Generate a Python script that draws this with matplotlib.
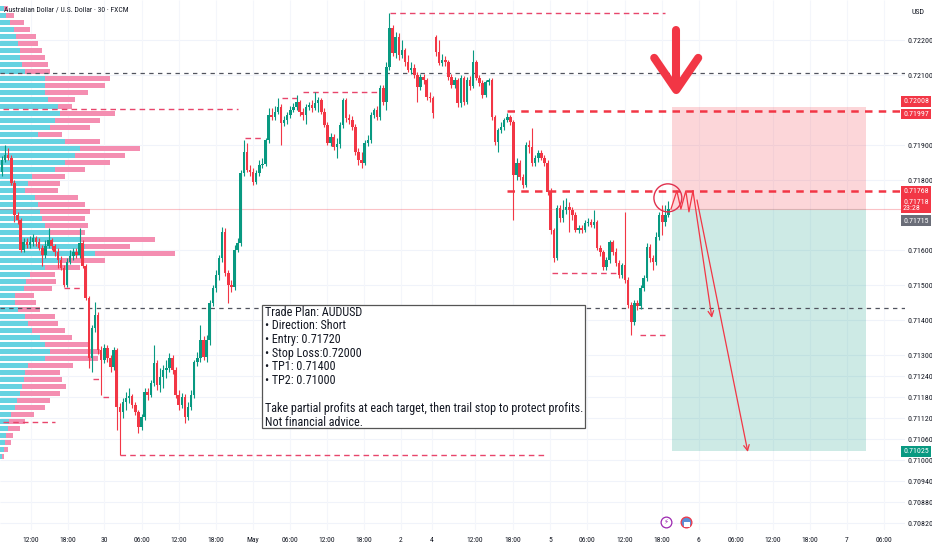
import matplotlib
matplotlib.use("Agg")
import matplotlib.pyplot as plt
import matplotlib.transforms as mtransforms
from matplotlib import font_manager as fm
from matplotlib.patches import Rectangle, Ellipse
import numpy as np

# ── OHLC (AUDUSD, 30m, FXCM) ─────────────────────────────────────
opens = [
    0.71823, 0.71857, 0.71871, 0.71863, 0.71791, 0.71700, 0.71686, 0.71600, 0.71623, 0.71614,
    0.71623, 0.71634, 0.71623, 0.71606, 0.71586, 0.71611, 0.71629, 0.71611, 0.71594, 0.71571,
    0.71549, 0.71500, 0.71566, 0.71583, 0.71594, 0.71586, 0.71620, 0.71554, 0.71463, 0.71291,
    0.71377, 0.71414, 0.71314, 0.71286, 0.71320, 0.71291, 0.71266, 0.71314, 0.71151, 0.71137,
    0.71166, 0.71177, 0.71183, 0.71157, 0.71137, 0.71094, 0.71123, 0.71194, 0.71186, 0.71220,
    0.71277, 0.71214, 0.71237, 0.71257, 0.71263, 0.71291, 0.71257, 0.71186, 0.71157, 0.71180,
    0.71123, 0.71151, 0.71186, 0.71280, 0.71291, 0.71343, 0.71294, 0.71343, 0.71449, 0.71491,
    0.71529, 0.71577, 0.71651, 0.71534, 0.71500, 0.71494, 0.71600, 0.71620, 0.71820, 0.71880,
    0.71829, 0.71823, 0.71794, 0.71820, 0.71843, 0.71846, 0.71914, 0.71986, 0.71980, 0.71994,
    0.72009, 0.71963, 0.71971, 0.71986, 0.72000, 0.72009, 0.72023, 0.71994, 0.71986, 0.72009,
    0.72014, 0.72006, 0.72020, 0.72029, 0.71994, 0.71957, 0.71906, 0.71923, 0.71894, 0.71903,
    0.71957, 0.72029, 0.71977, 0.71971, 0.71951, 0.71880, 0.71857, 0.71849, 0.71906, 0.71914,
    0.71986, 0.72000, 0.71980, 0.72063, 0.72023, 0.72123, 0.72234, 0.72163, 0.72209, 0.72157,
    0.72171, 0.72137, 0.72114, 0.72120, 0.72100, 0.72066, 0.72094, 0.72086, 0.72037, 0.72034,
    0.72209, 0.72166, 0.72134, 0.72143, 0.72137, 0.72094, 0.72071, 0.72086, 0.72020, 0.72091,
    0.72023, 0.72086, 0.72069, 0.72137, 0.72091, 0.72077, 0.72043, 0.72080, 0.72086, 0.71980,
    0.71909, 0.71943, 0.71951, 0.71971, 0.71980, 0.71966, 0.71814, 0.71849, 0.71809, 0.71786,
    0.71900, 0.71894, 0.71849, 0.71863, 0.71877, 0.71863, 0.71849, 0.71766, 0.71657, 0.71577,
    0.71720, 0.71691, 0.71714, 0.71723, 0.71714, 0.71700, 0.71657, 0.71663, 0.71657, 0.71677,
    0.71680, 0.71671, 0.71680, 0.71606, 0.71594, 0.71551, 0.71571, 0.71623, 0.71594, 0.71563,
    0.71529, 0.71557, 0.71514, 0.71443, 0.71394, 0.71449, 0.71440, 0.71491, 0.71520, 0.71609,
    0.71577, 0.71566, 0.71637, 0.71700, 0.71680, 0.71700,
]
highs = [
    0.71869, 0.71900, 0.71891, 0.71871, 0.71800, 0.71709, 0.71691, 0.71634, 0.71634, 0.71640,
    0.71646, 0.71640, 0.71634, 0.71614, 0.71629, 0.71663, 0.71634, 0.71617, 0.71606, 0.71583,
    0.71557, 0.71577, 0.71600, 0.71606, 0.71606, 0.71663, 0.71629, 0.71560, 0.71469, 0.71386,
    0.71451, 0.71423, 0.71326, 0.71331, 0.71329, 0.71300, 0.71323, 0.71320, 0.71163, 0.71177,
    0.71194, 0.71206, 0.71189, 0.71166, 0.71143, 0.71131, 0.71206, 0.71206, 0.71229, 0.71329,
    0.71286, 0.71263, 0.71271, 0.71286, 0.71306, 0.71300, 0.71266, 0.71200, 0.71191, 0.71189,
    0.71166, 0.71200, 0.71286, 0.71309, 0.71386, 0.71354, 0.71357, 0.71457, 0.71500, 0.71543,
    0.71586, 0.71666, 0.71663, 0.71543, 0.71514, 0.71614, 0.71634, 0.71829, 0.71914, 0.71906,
    0.71843, 0.71834, 0.71829, 0.71857, 0.71863, 0.71920, 0.72006, 0.72006, 0.72011, 0.72034,
    0.72017, 0.71983, 0.71994, 0.72011, 0.72020, 0.72043, 0.72029, 0.72006, 0.72017, 0.72023,
    0.72029, 0.72051, 0.72037, 0.72034, 0.72006, 0.71966, 0.71934, 0.71931, 0.71920, 0.71966,
    0.72034, 0.72034, 0.71989, 0.71983, 0.71960, 0.71891, 0.71880, 0.71914, 0.71929, 0.71994,
    0.72006, 0.72011, 0.72071, 0.72071, 0.72137, 0.72277, 0.72243, 0.72223, 0.72220, 0.72200,
    0.72177, 0.72157, 0.72137, 0.72131, 0.72109, 0.72103, 0.72103, 0.72091, 0.72051, 0.72040,
    0.72214, 0.72200, 0.72160, 0.72154, 0.72143, 0.72103, 0.72094, 0.72091, 0.72100, 0.72097,
    0.72094, 0.72097, 0.72171, 0.72143, 0.72100, 0.72086, 0.72086, 0.72091, 0.72091, 0.71986,
    0.71949, 0.71966, 0.71977, 0.71991, 0.71986, 0.71971, 0.71863, 0.71857, 0.71817, 0.71909,
    0.71914, 0.71949, 0.71871, 0.71886, 0.71886, 0.71871, 0.71857, 0.71777, 0.71663, 0.71729,
    0.71729, 0.71743, 0.71749, 0.71737, 0.71723, 0.71709, 0.71671, 0.71671, 0.71686, 0.71691,
    0.71689, 0.71714, 0.71686, 0.71614, 0.71600, 0.71580, 0.71629, 0.71629, 0.71606, 0.71571,
    0.71563, 0.71709, 0.71523, 0.71451, 0.71457, 0.71457, 0.71500, 0.71529, 0.71620, 0.71617,
    0.71586, 0.71651, 0.71709, 0.71729, 0.71729, 0.71740,
]
lows = [
    0.71811, 0.71851, 0.71857, 0.71786, 0.71680, 0.71674, 0.71594, 0.71594, 0.71606, 0.71606,
    0.71611, 0.71611, 0.71600, 0.71554, 0.71577, 0.71606, 0.71600, 0.71583, 0.71549, 0.71543,
    0.71494, 0.71494, 0.71560, 0.71571, 0.71577, 0.71577, 0.71549, 0.71457, 0.71263, 0.71251,
    0.71366, 0.71303, 0.71186, 0.71277, 0.71280, 0.71251, 0.71257, 0.71086, 0.71014, 0.71120,
    0.71143, 0.71163, 0.71149, 0.71129, 0.71077, 0.71086, 0.71114, 0.71171, 0.71180, 0.71211,
    0.71200, 0.71194, 0.71206, 0.71234, 0.71251, 0.71246, 0.71177, 0.71143, 0.71149, 0.71106,
    0.71114, 0.71143, 0.71177, 0.71269, 0.71280, 0.71286, 0.71280, 0.71329, 0.71440, 0.71480,
    0.71514, 0.71566, 0.71526, 0.71449, 0.71480, 0.71486, 0.71594, 0.71611, 0.71811, 0.71823,
    0.71811, 0.71786, 0.71789, 0.71811, 0.71834, 0.71840, 0.71906, 0.71971, 0.71971, 0.71989,
    0.71900, 0.71954, 0.71960, 0.71977, 0.71994, 0.72000, 0.71983, 0.71971, 0.71960, 0.72000,
    0.71994, 0.72000, 0.71994, 0.71989, 0.71951, 0.71900, 0.71897, 0.71886, 0.71863, 0.71891,
    0.71949, 0.71966, 0.71960, 0.71943, 0.71871, 0.71843, 0.71834, 0.71843, 0.71897, 0.71906,
    0.71977, 0.71971, 0.71971, 0.72014, 0.72000, 0.72114, 0.72154, 0.72149, 0.72143, 0.72149,
    0.72126, 0.72109, 0.72103, 0.72091, 0.72023, 0.72057, 0.72074, 0.72029, 0.72023, 0.71977,
    0.72154, 0.72129, 0.72126, 0.72126, 0.72086, 0.72063, 0.72063, 0.72009, 0.72009, 0.72014,
    0.72017, 0.72057, 0.72063, 0.72086, 0.72069, 0.72034, 0.72037, 0.72071, 0.71971, 0.71900,
    0.71880, 0.71934, 0.71943, 0.71966, 0.71957, 0.71686, 0.71800, 0.71800, 0.71777, 0.71780,
    0.71877, 0.71840, 0.71840, 0.71851, 0.71857, 0.71840, 0.71757, 0.71646, 0.71566, 0.71571,
    0.71680, 0.71680, 0.71703, 0.71651, 0.71686, 0.71651, 0.71649, 0.71649, 0.71651, 0.71669,
    0.71666, 0.71663, 0.71600, 0.71583, 0.71543, 0.71543, 0.71563, 0.71586, 0.71554, 0.71520,
    0.71520, 0.71506, 0.71434, 0.71357, 0.71386, 0.71429, 0.71431, 0.71483, 0.71511, 0.71566,
    0.71543, 0.71557, 0.71629, 0.71643, 0.71669, 0.71694,
]
closes = [
    0.71857, 0.71871, 0.71863, 0.71791, 0.71700, 0.71686, 0.71600, 0.71623, 0.71614, 0.71623,
    0.71634, 0.71623, 0.71606, 0.71586, 0.71611, 0.71629, 0.71611, 0.71594, 0.71571, 0.71549,
    0.71500, 0.71566, 0.71583, 0.71594, 0.71586, 0.71620, 0.71554, 0.71463, 0.71291, 0.71377,
    0.71414, 0.71314, 0.71286, 0.71320, 0.71291, 0.71266, 0.71314, 0.71151, 0.71137, 0.71166,
    0.71177, 0.71183, 0.71157, 0.71137, 0.71094, 0.71123, 0.71194, 0.71186, 0.71220, 0.71277,
    0.71214, 0.71237, 0.71257, 0.71263, 0.71291, 0.71257, 0.71186, 0.71157, 0.71180, 0.71123,
    0.71151, 0.71186, 0.71280, 0.71291, 0.71343, 0.71294, 0.71343, 0.71449, 0.71491, 0.71529,
    0.71577, 0.71651, 0.71534, 0.71500, 0.71494, 0.71600, 0.71620, 0.71820, 0.71880, 0.71829,
    0.71823, 0.71794, 0.71820, 0.71843, 0.71846, 0.71914, 0.71986, 0.71980, 0.71994, 0.72009,
    0.71963, 0.71971, 0.71986, 0.72000, 0.72009, 0.72023, 0.71994, 0.71986, 0.72009, 0.72014,
    0.72006, 0.72020, 0.72029, 0.71994, 0.71957, 0.71906, 0.71923, 0.71894, 0.71903, 0.71957,
    0.72029, 0.71977, 0.71971, 0.71951, 0.71880, 0.71857, 0.71849, 0.71906, 0.71914, 0.71986,
    0.72000, 0.71980, 0.72063, 0.72023, 0.72123, 0.72234, 0.72163, 0.72209, 0.72157, 0.72171,
    0.72137, 0.72114, 0.72120, 0.72100, 0.72066, 0.72094, 0.72086, 0.72037, 0.72034, 0.71991,
    0.72166, 0.72134, 0.72143, 0.72137, 0.72094, 0.72071, 0.72086, 0.72020, 0.72091, 0.72023,
    0.72086, 0.72069, 0.72137, 0.72091, 0.72077, 0.72043, 0.72080, 0.72086, 0.71980, 0.71909,
    0.71943, 0.71951, 0.71971, 0.71980, 0.71966, 0.71814, 0.71849, 0.71809, 0.71786, 0.71900,
    0.71894, 0.71849, 0.71863, 0.71877, 0.71863, 0.71849, 0.71766, 0.71657, 0.71577, 0.71720,
    0.71691, 0.71714, 0.71723, 0.71714, 0.71700, 0.71657, 0.71663, 0.71657, 0.71677, 0.71680,
    0.71671, 0.71680, 0.71606, 0.71594, 0.71551, 0.71571, 0.71623, 0.71594, 0.71563, 0.71529,
    0.71557, 0.71514, 0.71443, 0.71394, 0.71449, 0.71440, 0.71491, 0.71520, 0.71609, 0.71577,
    0.71566, 0.71637, 0.71700, 0.71680, 0.71700, 0.71718,
]

# ── volume profile (visible range), rows of 0.0002 from 0.7100 upwards ──
vp_start = 0.7100
vp_step = 0.0002
vp_up = [2, 4, 5, 6, 8, 9, 11, 15, 17, 20, 22, 24, 25, 28, 45, 50, 45, 40, 32, 28,
         25, 18, 15, 15, 24, 26, 30, 45, 62, 95, 85, 80, 50, 45, 42, 40, 38, 35, 25, 28,
         32, 55, 65, 75, 80, 65, 38, 50, 55, 60, 58, 48, 45, 45, 45, 25, 22, 20, 20, 18,
         16, 14, 10, 6, 4]
vp_down = [2, 4, 6, 7, 12, 16, 23, 30, 33, 40, 44, 38, 35, 45, 53, 50, 45, 32, 33, 30,
           30, 22, 21, 19, 28, 30, 25, 35, 43, 80, 45, 75, 35, 43, 43, 50, 47, 43, 33, 32,
           33, 30, 45, 50, 60, 35, 24, 40, 45, 55, 14, 27, 43, 60, 65, 25, 26, 25, 22, 20,
           20, 16, 14, 8, 4]

# ── axes ticks ────────────────────────────────────────────────────
time_ticks = [9.4, 21.3, 33.0, 45.2, 57.1, 69.0, 81.0, 92.9, 104.8, 116.8, 128.7, 138.7,
              152.6, 164.8, 176.8, 188.7, 201.0, 212.9, 224.8, 236.8, 248.7, 260.6, 272.6, 284.5]
time_labels = ["12:00", "18:00", "30", "06:00", "12:00", "18:00", "May", "06:00", "12:00",
               "18:00", "2", "4", "12:00", "18:00", "5", "06:00", "12:00", "18:00", "6",
               "06:00", "12:00", "18:00", "7", "06:00"]
price_ticks = [0.72200, 0.72100, 0.71900, 0.71800, 0.71600, 0.71500, 0.71400, 0.71300,
               0.71240, 0.71180, 0.71120, 0.71060, 0.71000, 0.70940, 0.70880, 0.70820]

# ── trade plan ────────────────────────────────────────────────────
entry_price = 0.71718
stop_price = 0.72008
target_price = 0.71025
last_price = 0.71718
prev_price = 0.71715
plan_lines = [
    "Trade Plan: AUDUSD",
    "\u2022 Direction: Short",
    "\u2022 Entry: 0.71720",
    "\u2022 Stop Loss:0.72000",
    "\u2022 TP1: 0.71400",
    "\u2022 TP2: 0.71000",
    "",
    "Take partial profits at each target, then trail stop to protect profits.",
    "Not financial advice.",
]
header = "Australian Dollar / U.S. Dollar \u00b7 30 \u00b7 FXCM"

GREEN = "#089981"
RED = "#f23645"
PINK = "#f48eb1"
CYAN = "#66d2e1"
TXT = "#131722"


def pick_font():
    ents = fm.fontManager.ttflist
    names = {e.name for e in ents}
    for cand in ["Liberation Sans Narrow", "Roboto Condensed", "Noto Sans Condensed",
                 "Open Sans Condensed", "DejaVu Sans Condensed"]:
        if cand in names:
            return cand, "normal"
    for e in ents:
        if "condensed" in str(e.stretch) and e.name in ("DejaVu Sans", "Noto Sans", "Roboto",
                                                      "Open Sans", "Liberation Sans"):
            return e.name, e.stretch
    return "Liberation Sans", "normal"


fam, stretch = pick_font()
plt.rcParams["font.family"] = [fam, "DejaVu Sans"]
plt.rcParams["font.stretch"] = stretch

fig = plt.figure(figsize=(9.32, 5.5), dpi=100)
fig.patch.set_facecolor("white")
renderer = fig.canvas.get_renderer()


def fit(text, target_px):
    t = fig.text(0, 0, text, fontsize=10)
    w = t.get_window_extent(renderer=renderer).width
    t.remove()
    return 10 * target_px / w


axis_fs = fit("0.72200", 25)
time_fs = fit("12:00", 16.5)
head_fs = fit(header, 124)
plan_fs = fit(plan_lines[7], 316)

ax = fig.add_axes([0, 20 / 550, 905 / 932, 530 / 550])
XMIN, XMAX = -0.65, 291.3
ax.set_xlim(XMIN, XMAX)
ax.set_ylim(0.70800, 0.723143)
for s in ax.spines.values():
    s.set_visible(False)

# grid
ax.hlines(price_ticks, XMIN, XMAX, color="#f0f3fa", lw=0.8, zorder=0)
ax.vlines(time_ticks, 0.70800, 0.723143, color="#f4f6fb", lw=0.8, zorder=0)

# volume profile
up_v = np.array(vp_up, dtype=float)
dn_v = np.array(vp_down, dtype=float)
scale = 56.5 / (up_v + dn_v).max()
rows = vp_start + vp_step * (np.arange(len(up_v)) + 0.5)
ax.barh(rows, up_v * scale, height=vp_step * 0.8, left=XMIN, color=CYAN, lw=0, zorder=1)
ax.barh(rows, dn_v * scale, height=vp_step * 0.8, left=XMIN + up_v * scale,
        color=PINK, lw=0, zorder=1)

# candles
o = np.array(opens); h = np.array(highs); l = np.array(lows); c = np.array(closes)
x = np.arange(len(c))
col = np.where(c >= o, GREEN, RED)
ax.vlines(x, l, h, colors=col, lw=0.8, zorder=3)
ax.bar(x, np.maximum(np.abs(c - o), 0.00002), bottom=np.minimum(o, c), width=0.8,
       color=col, lw=0, zorder=4)


# levels
def dline(y, x0, x1, color, lw, dashes, z=2.5):
    ax.plot([x0, x1], [y, y], color=color, lw=lw, dashes=dashes, zorder=z)


dline(0.72106, XMIN, XMAX, "#50535e", 0.9, (3.5, 3.5))
dline(0.71434, XMIN, XMAX, "#50535e", 0.9, (3.5, 3.5))
dline(0.72277, 125.2, 213.9, "#e8456b", 1.0, (4, 3))
dline(0.72003, 0.3, 76.1, "#e8456b", 1.0, (4, 3))
dline(0.72034, 90.3, 96.1, "#e8456b", 1.0, (4, 3))
dline(0.72051, 97.1, 121.0, "#e8456b", 1.0, (4, 3))
dline(0.71920, 78.4, 84.2, "#e8456b", 1.0, (4, 3))
dline(0.71534, 177.4, 199.4, "#e8456b", 1.0, (4, 3))
dline(0.71357, 205.8, 214.8, "#e8456b", 1.0, (4, 3))
dline(0.71014, 38.1, 175.2, "#e8456b", 1.0, (4, 3))
dline(0.71109, 0.3, 17.1, "#e8456b", 1.0, (4, 3))
dline(0.71491, 20.0, 25.8, "#e8456b", 1.0, (4, 3))
dline(0.71231, 29.4, 31.6, "#e8456b", 1.0, (4, 3))
dline(0.71180, 32.6, 34.8, "#e8456b", 1.0, (4, 3))
dline(0.71997, 162.9, XMAX, RED, 1.8, (3, 2.5), z=6)
dline(0.71768, 162.9, XMAX, RED, 1.8, (3, 2.5), z=6)
ax.plot([XMIN, XMAX], [last_price, last_price], color=RED, alpha=0.3, lw=0.8, zorder=2)

# short position box
bx0, bx1 = 216.1, 278.7
ax.fill_between([bx0, bx1], entry_price, stop_price, color=RED, alpha=0.2, lw=0, zorder=1.5)
ax.fill_between([bx0, bx1], target_price, entry_price, color=GREEN, alpha=0.2, lw=0, zorder=1.5)

# big arrow
ax.plot([217.5, 217.5], [0.72229, 0.72075], color=RED, lw=5.8, solid_capstyle="round", zorder=7)
ax.plot([210.4, 217.5, 224.6], [0.72149, 0.72057, 0.72149], color=RED, lw=5.8,
        solid_capstyle="round", solid_joinstyle="round", zorder=7)

# circle + projected path
ax.add_patch(Ellipse((214.8, 0.71749), 9.0, 0.0008, fill=False, ec="#e0304e", lw=1.0, zorder=7))
ax.plot([215.8, 217.7, 219.0, 220.6, 221.6, 222.9],
        [0.71717, 0.71769, 0.71717, 0.71769, 0.71709, 0.71769], color=RED, lw=0.9, zorder=7)
ax.annotate("", xy=(229.0, 0.71406), xytext=(222.9, 0.71769),
            arrowprops=dict(arrowstyle="->", color=RED, lw=0.9, shrinkA=0, shrinkB=0), zorder=7)
ax.annotate("", xy=(240.6, 0.71023), xytext=(224.2, 0.71743),
            arrowprops=dict(arrowstyle="->", color=RED, lw=0.9, shrinkA=0, shrinkB=0), zorder=7)

# event icons
ax.scatter([214.2], [0.70823], s=60, facecolor="white", edgecolor="#9c27b0", lw=0.9, zorder=8)
ax.text(214.2, 0.70823, "\u26a1", color="#9c27b0", fontsize=5, ha="center", va="center",
        family="DejaVu Sans", zorder=9)
ax.scatter([220.6], [0.70823], s=60, facecolor="#5b8fd6", edgecolor=RED, lw=0.9, zorder=8)
ax.scatter([221.0], [0.70815], s=14, facecolor="white", edgecolor="none", marker="s", zorder=9)

# trade plan text box
ax.add_patch(Rectangle((262 / 905, 1 - 428 / 530), 323 / 905, 123 / 530, transform=ax.transAxes,
                       fc="white", ec="#555555", lw=0.9, zorder=9))
for k, line in enumerate(plan_lines):
    ax.text(265 / 905, 1 - (312 + 13.75 * k) / 530, line, transform=ax.transAxes,
            ha="left", va="center", fontsize=plan_fs, color=TXT, zorder=10)

# axes labels
ax.set_xticks(time_ticks)
ax.set_xticklabels(time_labels)
ax.tick_params(axis="x", length=0, pad=5, labelsize=time_fs, labelcolor=TXT)
ax.yaxis.tick_right()
ax.set_yticks(price_ticks)
ax.set_yticklabels([f"{v:.5f}" for v in price_ticks])
ax.tick_params(axis="y", length=0, pad=1.5, labelsize=axis_fs, labelcolor=TXT)

btr = mtransforms.blended_transform_factory(ax.transAxes, ax.transData)


def tag(text, price, dy, fc, tc="white"):
    ax.annotate(text, xy=(1, price), xycoords=btr, xytext=(-2, dy), textcoords="offset pixels",
                ha="left", va="center", fontsize=axis_fs, color=tc, annotation_clip=False,
                linespacing=1.0,
                bbox=dict(boxstyle="square,pad=0.3", fc=fc, ec="none"), zorder=20)


tag("0.72008", stop_price, 6, RED)
tag("0.71997", 0.71997, -3, RED)
tag("0.71768", 0.71768, 0, RED)
tag("0.71718\n23:28", last_price, 4, RED)
tag("0.71715", prev_price, -11, "#6a6d78")
tag("0.71025", target_price, 0, GREEN)

fig.text(4 / 932, 1 - 10 / 550, header, fontsize=head_fs, color=TXT, ha="left", va="center")
fig.text(918 / 932, 1 - 12 / 550, "USD", fontsize=axis_fs, color=TXT, ha="center", va="center")

fig.savefig("out.png", dpi=100)
